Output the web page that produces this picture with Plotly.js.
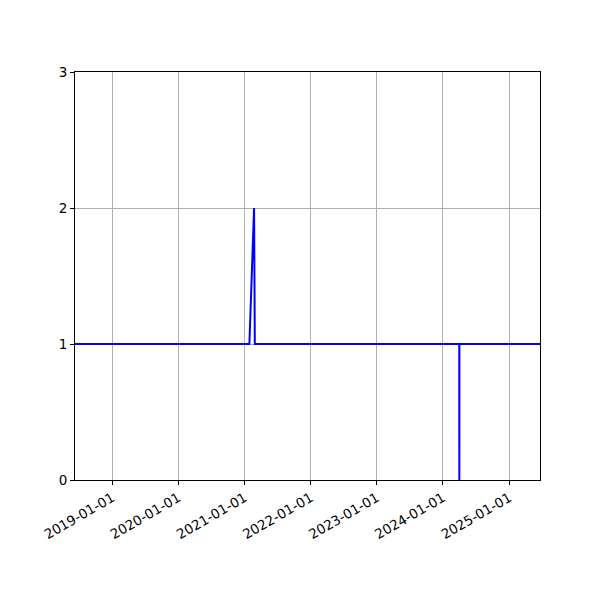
<!DOCTYPE html>
<html>
<head>
<meta charset="utf-8">
<script src="https://cdn.plot.ly/plotly-3.0.1.min.js"></script>
<style>html,body{margin:0;padding:0;background:#fff}#chart{width:600px;height:600px}</style>
</head>
<body>
<div id="chart"></div>
<script>
const dates = ["2018-06-09","2021-01-27","2021-02-22","2021-02-26","2024-03-31","2024-03-31 12:00","2024-04-01","2025-06-20"];
const values = [1,1,2,1,1,0,1,1];
const xRange = ["2018-06-09","2025-06-20"];
const yTicks = [0,1,2,3];
const xTicks = ["2019-01-01","2020-01-01","2021-01-01","2022-01-01","2023-01-01","2024-01-01","2025-01-01"];

const trace = {
  x: dates, y: values, type: "scatter", mode: "lines",
  line: {color: "#0000ff", width: 2}, showlegend: false
};
const layout = {
  width: 600, height: 600,
  margin: {l: 75, r: 60, t: 72, b: 120},
  paper_bgcolor: "#fff", plot_bgcolor: "#fff",
  font: {family: "DejaVu Sans", size: 13.5, color: "#000"},
  xaxis: {
    type: "date", range: xRange,
    tickmode: "array", tickvals: xTicks, ticktext: xTicks,
    tickangle: -30, ticks: "outside", ticklen: 4, tickcolor: "#000",
    showgrid: true, gridcolor: "#b0b0b0", gridwidth: 1,
    showline: true, linecolor: "#000", linewidth: 1, mirror: true,
    zeroline: false, tickfont: {size: 13.5}
  },
  yaxis: {
    range: [0, 3], tickmode: "array", tickvals: yTicks,
    ticks: "outside", ticklen: 4, tickcolor: "#000",
    showgrid: true, gridcolor: "#b0b0b0", gridwidth: 1,
    showline: true, linecolor: "#000", linewidth: 1, mirror: true,
    zeroline: false, tickfont: {size: 13.5}
  }
};
Plotly.newPlot("chart", [trace], layout, {displayModeBar: false, staticPlot: true});
</script>
</body>
</html>
